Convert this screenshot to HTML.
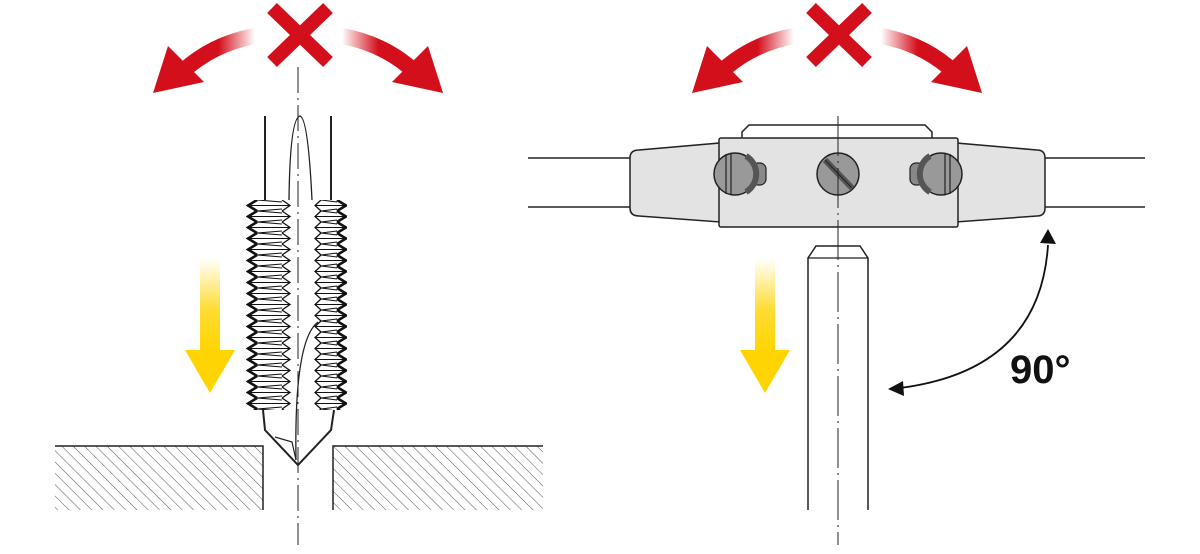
<!DOCTYPE html>
<html><head><meta charset="utf-8"><style>html,body{margin:0;padding:0;background:#fff}svg{display:block}</style></head>
<body>
<svg width="1200" height="554" viewBox="0 0 1200 554" xmlns="http://www.w3.org/2000/svg">
<defs>
<linearGradient id="yl" x1="0" y1="0" x2="0" y2="1">
<stop offset="0" stop-color="#ffd400" stop-opacity="0"/>
<stop offset="0.55" stop-color="#ffd400" stop-opacity="0.8"/>
<stop offset="1" stop-color="#ffd400"/>
</linearGradient>
<linearGradient id="rl" x1="1" y1="0" x2="0" y2="0">
<stop offset="0" stop-color="#d40f1c" stop-opacity="0"/>
<stop offset="0.5" stop-color="#d40f1c"/>
<stop offset="1" stop-color="#d40f1c"/>
</linearGradient>
<linearGradient id="rr" x1="0" y1="0" x2="1" y2="0">
<stop offset="0" stop-color="#d40f1c" stop-opacity="0"/>
<stop offset="0.5" stop-color="#d40f1c"/>
<stop offset="1" stop-color="#d40f1c"/>
</linearGradient>
<pattern id="hatch" width="8" height="8" patternUnits="userSpaceOnUse" patternTransform="rotate(-45)">
<line x1="0" y1="0" x2="0" y2="8" stroke="#555" stroke-width="1"/>
</pattern>
<pattern id="thL" x="246" y="200" width="50" height="11" patternUnits="userSpaceOnUse">
<path d="M11,0 L2,5.5 L11,11" fill="none" stroke="#111" stroke-width="2.6"/>
<path d="M36,0 L44,5.5 L36,11" fill="none" stroke="#111" stroke-width="1.3"/>
<path d="M11,0 L36,2 M2,5.5 L44,5.5 M11,11 L36,9" fill="none" stroke="#111" stroke-width="1.1"/>
</pattern>
<pattern id="thR" x="313" y="200" width="40" height="11" patternUnits="userSpaceOnUse">
<path d="M24,0 L33,5.5 L24,11" fill="none" stroke="#111" stroke-width="2.6"/>
<path d="M8,0 L2,5.5 L8,11" fill="none" stroke="#111" stroke-width="1.3"/>
<path d="M8,0 L24,2 M2,5.5 L33,5.5 M8,11 L24,9" fill="none" stroke="#111" stroke-width="1.1"/>
</pattern>
</defs>

<path d="M255,36 Q212,44 182,72" fill="none" stroke="url(#rl)" stroke-width="16"/>
<polygon points="153,93 168,46 204,82" fill="#d40f1c"/>
<path d="M342,36 Q385,44 415,72" fill="none" stroke="url(#rr)" stroke-width="16"/>
<polygon points="443,93 428,46 392,82" fill="#d40f1c"/>
<path d="M272,8 L328,62 M328,8 L272,62" stroke="#d40f1c" stroke-width="14"/>

<rect x="55" y="446" width="208" height="64" fill="url(#hatch)"/>
<path d="M55,446 H263 V510" fill="none" stroke="#222" stroke-width="1.5"/>
<rect x="333" y="446" width="210" height="64" fill="url(#hatch)"/>
<path d="M543,446 H333 V510" fill="none" stroke="#222" stroke-width="1.5"/>

<line x1="265" y1="116" x2="265" y2="200" stroke="#222" stroke-width="2"/>
<line x1="331" y1="116" x2="331" y2="200" stroke="#222" stroke-width="2"/>
<path d="M289,200 Q290,118 300,116 Q308,118 312,200" fill="none" stroke="#222" stroke-width="1.3"/>
<rect x="246" y="200" width="46" height="210" fill="url(#thL)"/>
<rect x="313" y="200" width="34" height="210" fill="url(#thR)"/>
<path d="M263,410 L265,430 L298,465 L331,430 L334,410" fill="none" stroke="#222" stroke-width="2"/>
<path d="M275,437 L292,442 L296,460" fill="none" stroke="#222" stroke-width="1.2"/>
<path d="M296,460 Q294,340 318,322" fill="none" stroke="#222" stroke-width="1.3"/>
<line x1="298" y1="67" x2="298" y2="545" stroke="#222" stroke-width="1" stroke-dasharray="26,5,2,5"/>

<rect x="200" y="258" width="20" height="94" fill="url(#yl)"/>
<polygon points="185,350 235,350 210,393" fill="#ffd400"/>

<path d="M794,36 Q751,44 721,72" fill="none" stroke="url(#rl)" stroke-width="16"/>
<polygon points="692,93 707,46 743,82" fill="#d40f1c"/>
<path d="M881,36 Q924,44 954,72" fill="none" stroke="url(#rr)" stroke-width="16"/>
<polygon points="982,93 967,46 931,82" fill="#d40f1c"/>
<path d="M811,8 L867,62 M867,8 L811,62" stroke="#d40f1c" stroke-width="14"/>

<path d="M528,158 H632 M528,207 H632 M1043,158 H1145 M1043,207 H1145" stroke="#222" stroke-width="1.5"/>
<path d="M639,150 L720,143 L720,222 L639,216 Q630,216 630,208 V158 Q630,150 639,150 Z" fill="#e3e3e3" stroke="#222" stroke-width="1.5"/>
<path d="M1037,150 L956,143 L956,222 L1037,216 Q1045,216 1045,208 V158 Q1045,150 1037,150 Z" fill="#e3e3e3" stroke="#222" stroke-width="1.5"/>
<path d="M742,138 V132 L749,125 H925 L932,132 V138" fill="#fff" stroke="#222" stroke-width="1.5"/>
<rect x="719" y="138" width="239" height="89" rx="2" fill="#e3e3e3" stroke="#222" stroke-width="1.5"/>
<rect x="752" y="163" width="14" height="22" rx="6" fill="#888" stroke="#222" stroke-width="1.2"/>
<circle cx="735" cy="174" r="21" fill="#999" stroke="#222" stroke-width="1.5"/>
<path d="M746,156 A21,21 0 0 1 746,192" fill="none" stroke="#555" stroke-width="6"/>
<path d="M726,154 V194 M731,154 V194" stroke="#222" stroke-width="1.2"/>
<circle cx="838" cy="174" r="21" fill="#999" stroke="#222" stroke-width="1.5"/>
<line x1="825" y1="160" x2="852" y2="188" stroke="#555" stroke-width="6"/>
<line x1="825" y1="160" x2="852" y2="188" stroke="#222" stroke-width="1"/>
<rect x="910" y="163" width="14" height="22" rx="6" fill="#888" stroke="#222" stroke-width="1.2"/>
<circle cx="941" cy="174" r="21" fill="#999" stroke="#222" stroke-width="1.5"/>
<path d="M930,156 A21,21 0 0 0 930,192" fill="none" stroke="#555" stroke-width="6"/>
<path d="M950,154 V194 M945,154 V194" stroke="#222" stroke-width="1.2"/>

<path d="M808,510 V258 L816,246 H860 L868,258 V510" fill="#fff" stroke="#222" stroke-width="1.5"/>
<line x1="808" y1="258" x2="868" y2="258" stroke="#222" stroke-width="1.2"/>
<line x1="838" y1="116" x2="838" y2="545" stroke="#222" stroke-width="1" stroke-dasharray="40,5,2,5"/>

<rect x="755" y="258" width="20" height="94" fill="url(#yl)"/>
<polygon points="740,350 790,350 765,393" fill="#ffd400"/>

<path d="M1048,245 Q1040,370 900,388" fill="none" stroke="#111" stroke-width="1.8"/>
<polygon points="1048,229 1056,244 1040,243" fill="#111"/>
<polygon points="888,389 903,381 904,396" fill="#111"/>
<text x="1010" y="383" font-family="Liberation Sans, sans-serif" font-weight="bold" font-size="40" fill="#111">90°</text>
</svg>
</body></html>
